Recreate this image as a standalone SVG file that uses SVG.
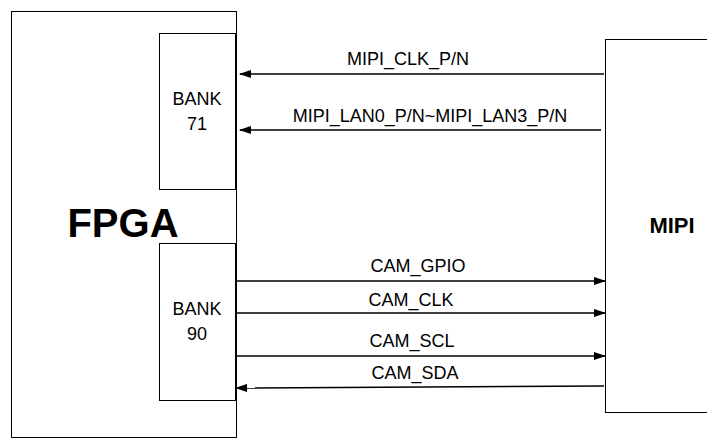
<svg xmlns="http://www.w3.org/2000/svg" width="707" height="448" viewBox="0 0 707 448">
<style>
.box{fill:#fff;stroke:#000;stroke-width:1}
.t{font-family:"Liberation Sans",Arial,sans-serif;font-size:18px;text-anchor:middle;fill:#000}
.w{stroke:#000;stroke-width:1.5;fill:none}
</style>
<defs><marker id="a" markerWidth="12" markerHeight="8" refX="11" refY="4" orient="auto" markerUnits="userSpaceOnUse"><path d="M0,0L12,4L0,8z" fill="#000"/></marker></defs>
<rect width="707" height="448" fill="#fff"/>
<g id="fpga"><rect class="box" x="11.5" y="11.5" width="225" height="426"/><text class="t" x="123" y="237" style="font-size:40px;font-weight:bold">FPGA</text></g>
<g id="bank71"><rect class="box" x="159.5" y="33.5" width="76" height="156"/><text class="t" x="197" y="105">BANK</text><text class="t" x="197" y="130">71</text></g>
<g id="bank90"><rect class="box" x="159.5" y="243.5" width="76" height="157"/><text class="t" x="197" y="315">BANK</text><text class="t" x="197" y="340">90</text></g>
<g id="mipi"><rect class="box" x="605.5" y="39.5" width="120" height="373"/><text class="t" x="672" y="233" style="font-size:22px;font-weight:bold">MIPI</text></g>
<g id="connectors">
<line class="w" x1="604" y1="74" x2="240" y2="74" marker-end="url(#a)"/>
<line class="w" x1="601" y1="130" x2="240" y2="130" marker-end="url(#a)"/>
<line class="w" x1="236" y1="281" x2="605" y2="281" marker-end="url(#a)"/>
<line class="w" x1="236" y1="313" x2="605" y2="313" marker-end="url(#a)"/>
<line class="w" x1="236" y1="356" x2="605" y2="356" marker-end="url(#a)"/>
<line class="w" x1="604" y1="386" x2="236" y2="388" marker-end="url(#a)"/>
<text class="t" x="408" y="65">MIPI_CLK_P/N</text>
<text class="t" x="430" y="122">MIPI_LAN0_P/N~MIPI_LAN3_P/N</text>
<text class="t" x="418" y="272">CAM_GPIO</text>
<text class="t" x="411" y="306">CAM_CLK</text>
<text class="t" x="412" y="347">CAM_SCL</text>
<text class="t" x="415" y="379">CAM_SDA</text>
</g>
</svg>
